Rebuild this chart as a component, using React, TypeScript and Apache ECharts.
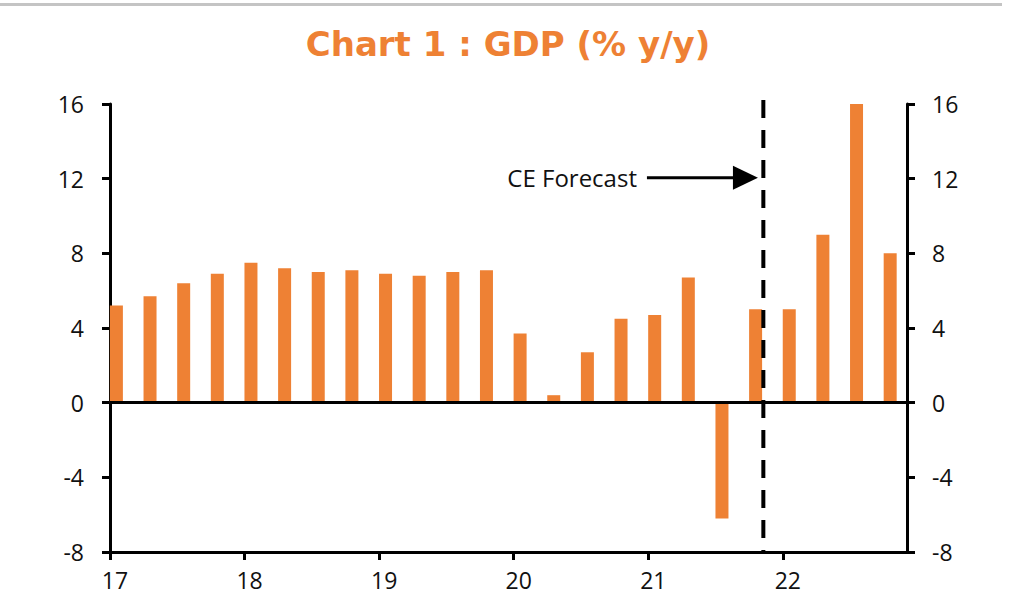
import React, { useEffect, useRef } from "react";
import * as echarts from "echarts";

const quarters = [
  "2017Q1", "2017Q2", "2017Q3", "2017Q4",
  "2018Q1", "2018Q2", "2018Q3", "2018Q4",
  "2019Q1", "2019Q2", "2019Q3", "2019Q4",
  "2020Q1", "2020Q2", "2020Q3", "2020Q4",
  "2021Q1", "2021Q2", "2021Q3", "2021Q4",
  "2022Q1", "2022Q2", "2022Q3", "2022Q4",
];
const gdpYoY = [
  5.2, 5.7, 6.4, 6.9,
  7.5, 7.2, 7.0, 7.1,
  6.9, 6.8, 7.0, 7.1,
  3.7, 0.4, 2.7, 4.5,
  4.7, 6.7, -6.2, 5.0,
  5.0, 9.0, 16.0, 8.0,
];
const yearLabels = ["17", "18", "19", "20", "21", "22"];
const yTicks = [-8, -4, 0, 4, 8, 12, 16];
const forecastStart = 19.42; // in quarters from 2017Q1
const title = "Chart 1 : GDP (% y/y)";
const annotation = "CE Forecast";

const ORANGE = "#EE8134";
const FONT = "'Open Sans', sans-serif";

export default function App() {
  const ref = useRef<HTMLDivElement>(null);

  useEffect(() => {
    if (!ref.current) return;
    const chart = echarts.init(ref.current, undefined, { renderer: "svg" });
    const barData = gdpYoY.map((v, i) => [i + 0.19, v, quarters[i]]);
    const yAxisBase = {
      type: "value",
      min: yTicks[0],
      max: yTicks[yTicks.length - 1],
      interval: 4,
      splitLine: { show: false },
      axisLine: { show: true, lineStyle: { color: "#000", width: 3 } },
      axisTick: { show: true, length: 8, lineStyle: { color: "#000", width: 3 } },
      axisLabel: { color: "#111", fontFamily: FONT, fontSize: 23 },
    };
    chart.setOption({
      animation: false,
      grid: { left: 110, right: 102, top: 104, bottom: 56 },
      xAxis: {
        type: "value",
        min: 0,
        max: 23.69,
        interval: 4,
        position: "bottom",
        splitLine: { show: false },
        axisLine: { onZero: false, lineStyle: { color: "#000", width: 3 } },
        axisTick: {
          show: true,
          length: 8,
          customValues: [0, 4, 8, 12, 16, 20],
          lineStyle: { color: "#000", width: 3 },
        },
        axisLabel: {
          customValues: [0, 4, 8, 12, 16, 20],
          formatter: (v: number) => yearLabels[Math.round(v / 4)] ?? "",
          color: "#111",
          fontFamily: FONT,
          fontSize: 23,
          margin: 16,
          padding: [0, 0, 0, 10],
        },
      },
      yAxis: [
        { ...yAxisBase, position: "left", axisLabel: { ...yAxisBase.axisLabel, margin: 26 } },
        { ...yAxisBase, position: "right", axisLabel: { ...yAxisBase.axisLabel, margin: 25 } },
      ],
      series: [
        {
          type: "bar",
          data: barData,
          barWidth: 13,
          itemStyle: { color: ORANGE },
          markLine: {
            silent: true,
            symbol: "none",
            label: { show: false },
            data: [{ yAxis: 0, lineStyle: { color: "#000", width: 3, type: "solid" } }],
          },
          z: 3,
        },
      ],
    });

    const tip = chart.convertToPixel({ gridIndex: 0 }, [19.26, 12]) as number[];
    const tail = chart.convertToPixel({ gridIndex: 0 }, [15.96, 12]) as number[];
    const fTop = chart.convertToPixel({ gridIndex: 0 }, [forecastStart, 16]) as number[];
    const fBot = chart.convertToPixel({ gridIndex: 0 }, [forecastStart, -8]) as number[];
    const y = tip[1] - 1;
    chart.setOption({
      graphic: [
        { type: "rect", shape: { x: 0, y: 3, width: 1002, height: 3 }, style: { fill: "#c4c4c4" } },
        {
          type: "text",
          x: 508,
          y: 44,
          style: {
            text: title,
            fill: ORANGE,
            font: "bold 34px 'DejaVu Sans', sans-serif",
            align: "center",
            verticalAlign: "middle",
          },
        },
        {
          type: "line",
          shape: { x1: fTop[0], y1: fTop[1] - 4, x2: fBot[0], y2: fBot[1] },
          style: { stroke: "#000", lineWidth: 4, lineDash: [18, 12] },
          z: 10,
        },
        {
          type: "line",
          shape: { x1: tail[0], y1: y, x2: tip[0] - 22, y2: y },
          style: { stroke: "#000", lineWidth: 3 },
        },
        {
          type: "polygon",
          shape: { points: [[tip[0] - 25, y - 12], [tip[0], y], [tip[0] - 25, y + 12]] },
          style: { fill: "#000" },
        },
        {
          type: "text",
          x: tail[0] - 10,
          y: y,
          style: {
            text: annotation,
            fill: "#111",
            font: `24px ${FONT}`,
            align: "right",
            verticalAlign: "middle",
          },
        },
      ],
    });

    return () => chart.dispose();
  }, []);

  return (
    <div
      ref={ref}
      style={{ position: "fixed", left: 0, top: 0, width: 1009, height: 608, background: "#fff" }}
    />
  );
}
